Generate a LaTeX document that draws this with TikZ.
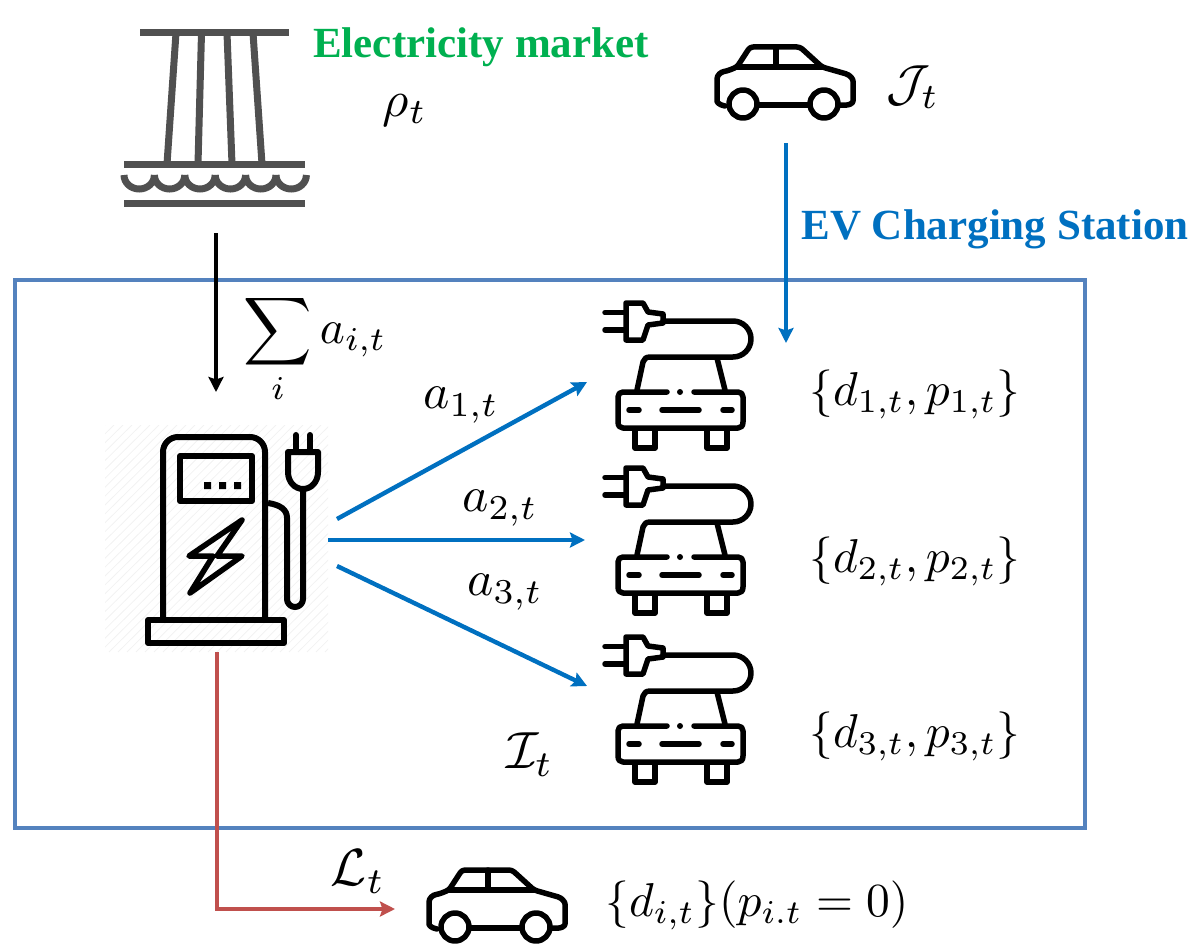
\documentclass[tikz,border=0pt]{standalone}
\usepackage{fontspec}
\usepackage{amsmath}
\setmainfont{Liberation Serif}
\usetikzlibrary{arrows.meta}
\definecolor{framecol}{RGB}{84,130,190}
\definecolor{flowblue}{RGB}{0,112,192}
\definecolor{loadred}{RGB}{192,80,77}
\definecolor{marketgreen}{RGB}{0,176,80}
\definecolor{damgrey}{RGB}{80,80,80}
\tikzset{
  icon/.style={line width=5.5pt,line join=round,line cap=round,draw=black,fill=none},
  tip/.style={-{Stealth[length=15pt,width=15pt,inset=2.5pt]}},
  flow/.style={tip,line width=4.4pt,draw=flowblue},
  feed/.style={tip,line width=4pt,draw=black},
  loadline/.style={tip,line width=4.2pt,draw=loadred},
  mlabel/.style={inner sep=0pt,scale=4.75},
  headline/.style={inner sep=0pt,font=\fontsize{43}{43}\selectfont\bfseries},
  pics/sidecar/.style={code={
    \draw[icon,rounded corners=3pt] (25,76) .. controls (19,75) and (17,72) .. (17,68) -- (17,52)
      .. controls (17,45) and (21,42) .. (27,41) -- (37,37) -- (50,17) -- (100,17)
      -- (122,37) -- (143,43) .. controls (150,45) and (153,49) .. (153,54) -- (153,68)
      .. controls (153,73) and (150,76) .. (140,75);
    \draw[icon] (58,75) -- (110,75);
    \draw[icon] (37,37) -- (122,37);
    \draw[icon] (76,17) -- (76,37);
    \draw[icon] (43,74) circle (14);
    \draw[icon] (124,74) circle (14);
  }},
  pics/pluggedcar/.style={code={
    \draw[icon] (15,22.7) -- (35,22.7) (15,40) -- (35,40);
    \draw[icon] (36,13) -- (53,13) -- (58,22) -- (73,24) -- (73,33) -- (58,35) -- (53,50) -- (36,50) -- cycle;
    \draw[icon] (73,31) -- (143,31) arc[start angle=270,end angle=450,radius=18] -- (60,67)
      .. controls (56,67) and (54,69) .. (53,72) -- (47,100);
    \draw[icon] (127,68) -- (135,100);
    \draw[icon] (77,102) -- (33,102) .. controls (30,102) and (28,104) .. (28,107) -- (28,132)
      .. controls (28,136) and (30,138) .. (33,138) -- (148,138)
      .. controls (151,138) and (153,136) .. (153,132) -- (153,107)
      .. controls (153,104) and (151,102) .. (148,102) -- (104,102);
    \fill (90,102) circle (3);
    \draw[icon] (39,120) -- (49,120) (72,120) -- (109,120) (133,120) -- (142,120);
    \draw[icon] (45,140) -- (45,158) -- (65,158) -- (65,140);
    \draw[icon] (117,140) -- (117,158) -- (137,158) -- (137,140);
  }}
}
\begin{document}
\begin{tikzpicture}[x=1pt,y=-1pt]
\useasboundingbox (0,0) rectangle (1196,950);

% faint hatched backing of the charger icon
\begin{scope}
  \clip (105,425) rectangle (328,652);
  \foreach \k in {0,9,...,460}
    \draw[black!5,line width=0.8pt] (105+\k-230,652) -- (105+\k,425);
\end{scope}

% hydro dam
\begin{scope}[line width=7pt]
  \draw[damgrey] (140,33) -- (289,33);
  \draw[damgrey] (176,33) -- (167,164) (201.5,33) -- (198,164) (227,33) -- (232,164) (253,33) -- (262,164);
  \draw[damgrey] (124,164.5) -- (305,164.5) (124,203.5) -- (305,203.5);
  \foreach \w in {0,...,5}
    \draw[damgrey] (124+30.4*\w,175) arc[start angle=180,end angle=0,x radius=15.2,y radius=14];
\end{scope}

% charging pump
\begin{scope}[line width=6pt,line join=round]
  \draw (163,619) -- (163,452) arc[start angle=180,end angle=270,radius=15] -- (250,437)
    arc[start angle=270,end angle=360,radius=15] -- (265,619);
  \draw (180,456) rectangle (252,501);
  \fill (204,482) rectangle (211,489) (219,482) rectangle (226,489) (234,482) rectangle (241,489);
  \draw (148,620) rectangle (284,643);
  \draw[line width=5.5pt] (242,520) -- (189,556) -- (213,556) -- (190,593) -- (242,556) -- (217,556) -- cycle;
  \draw (268,503) .. controls (281,505) and (287,510) .. (287,518) -- (287,599)
    arc[start angle=180,end angle=0,radius=8] -- (303,490);
  \draw (288,452) -- (318,452) -- (318,472) .. controls (318,482) and (311,489) .. (303,489)
    .. controls (295,489) and (288,482) .. (288,472) -- cycle;
  \draw[line cap=round] (296,435) -- (296,452) (310,435) -- (310,452);
\end{scope}

% vehicle icons
\pic at (700,30) {sidecar};
\pic at (412,853) {sidecar};
\pic at (590,290) {pluggedcar};
\pic at (590,455) {pluggedcar};
\pic at (590,624) {pluggedcar};

% station boundary
\draw[framecol,line width=4pt] (15,280) rectangle (1085,828);

% connector anchors
\coordinate (gridout) at (216,233);
\coordinate (pumpin) at (216,392);
\coordinate (arrivalout) at (786,143);
\coordinate (arrivalin) at (786,343);
\coordinate (pumpa) at (337,519);
\coordinate (cara) at (587,382);
\coordinate (pumpb) at (328,540);
\coordinate (carb) at (585,540);
\coordinate (pumpc) at (337,566);
\coordinate (carc) at (587,686);
\coordinate (pumpd) at (217,652);
\coordinate (corner) at (217,909);
\coordinate (leave) at (395,909);

\draw[feed] (gridout) -- (pumpin);
\draw[flow] (arrivalout) -- (arrivalin);
\draw[flow] (pumpa) -- (cara);
\draw[flow] (pumpb) -- (carb);
\draw[flow] (pumpc) -- (carc);
\draw[loadline] (pumpd) -- (corner) -- (leave);

% headings
\node[headline,text=marketgreen] (market) at (481,47) {Electricity market};
\node[headline,text=flowblue] (station) at (995,229) {EV Charging Station};

% symbols
\node[mlabel,scale=1.07] (rho) at (405,110) {$\rho_t$};
\node[mlabel,scale=1.07] (arrivals) at (913,87) {$\mathcal{J}_t$};
\node[mlabel] (sumact) at (315,349) {$\displaystyle\sum_i a_{i,t}$};
\node[mlabel,scale=1.05] (aone) at (461,405) {$a_{1,t}$};
\node[mlabel,scale=1.05] (atwo) at (500,508) {$a_{2,t}$};
\node[mlabel,scale=1.05] (athree) at (505,592) {$a_{3,t}$};
\node[mlabel] (stateone) at (915,394) {$\{d_{1,t},p_{1,t}\}$};
\node[mlabel] (statetwo) at (915,561) {$\{d_{2,t},p_{2,t}\}$};
\node[mlabel] (statethree) at (915,736) {$\{d_{3,t},p_{3,t}\}$};
\node[mlabel,scale=1.1] (present) at (530,755) {$\mathcal{I}_t$};
\node[mlabel,scale=1.1] (left) at (358,872) {$\mathcal{L}_t$};
\node[mlabel] (leftstate) at (757,905) {$\{d_{i,t}\}(p_{i.t}=0)$};
\end{tikzpicture}
\end{document}
